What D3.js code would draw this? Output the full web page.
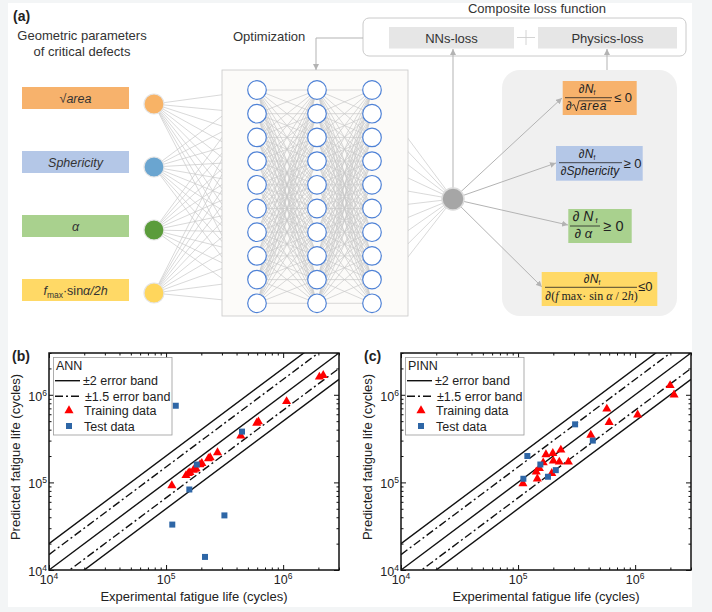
<!DOCTYPE html>
<html>
<head>
<meta charset="utf-8">
<script src="https://cdn.jsdelivr.net/npm/d3@7"></script>
<style>
body { margin: 0; background: #f3f5f6; }
svg { display: block; }
text { font-family: "Liberation Sans", Arial, sans-serif; fill: #222; }
</style>
</head>
<body>
<div id="chart"></div>
<script>
// ---- data ----
const inputNames = ["sqrtArea", "Sphericity", "alpha", "fmax"];
const hiddenLayers = [10, 10, 10];
const lossTerms = ["NNs-loss", "Physics-loss"];
const constraintSigns = ["≤ 0", "≥ 0", "≥ 0", "≤0"];

const bandFactors = [1, 2, 0.5, 1.5, 1 / 1.5];
const bandDashed = [false, false, false, true, true];
const majorTicks = [1e4, 1e5, 1e6];

// (b) ANN
const annTrainExp  = [1.12e5, 1.48e5, 1.55e5, 1.6e5, 1.71e5, 1.75e5, 1.80e5, 1.95e5, 2.02e5, 2.30e5, 2.38e5, 2.75e5, 4.35e5, 5.95e5, 6.15e5, 1.07e6, 2.04e6, 2.2e6];
const annTrainPred = [9.2e4, 1.2e5, 1.27e5, 1.3e5, 1.38e5, 1.42e5, 1.44e5, 1.6e5, 1.65e5, 1.87e5, 1.92e5, 2.19e5, 3.4e5, 4.76e5, 4.93e5, 8.4e5, 1.6e6, 1.67e6];
const annTestExp   = [1.21e5, 1.83e5, 4.45e5, 1.58e5, 1.13e5, 3.15e5, 2.15e5];
const annTestPred  = [7.5e5, 1.6e5, 3.8e5, 8.3e4, 3.3e4, 4.2e4, 1.41e4];

// (c) PINN
const pinnTrainExp  = [1.1e5, 1.43e5, 1.46e5, 1.52e5, 1.64e5, 1.73e5, 1.94e5, 1.98e5, 2.0e5, 2.25e5, 2.32e5, 2.69e5, 4.18e5, 5.73e5, 6.0e5, 1.05e6, 1.99e6, 2.15e6];
const pinnTrainPred = [9.7e4, 1.32e5, 1.1e5, 1.45e5, 1.68e5, 2.08e5, 1.27e5, 2.15e5, 1.76e5, 1.71e5, 2.35e5, 1.71e5, 3.47e5, 6.9e5, 4.85e5, 5.9e5, 1.28e6, 1.0e6];
const pinnTestExp   = [1.2e5, 3.07e5, 1.11e5, 1.55e5, 1.8e5, 2.1e5, 4.35e5];
const pinnTestPred  = [2.0e5, 4.6e5, 1.1e5, 1.6e5, 1.16e5, 1.38e5, 3.0e5];

// ---- styles ----
const inputBoxFill = ["#f7b26c", "#b4c7e7", "#a9d18e", "#ffd966"];
const inputDotFill = ["#f8b366", "#6aa5d0", "#5b9c3b", "#ffd65c"];
const lineGrey = "#c9c9c9";
const arrowGrey = "#b3b3b3";
const dashDot = "8,3,2,3";

const W = 712, H = 612;
const svg = d3.select("#chart").append("svg")
  .attr("width", W)
  .attr("height", H);

svg.append("rect").attr("x", 8).attr("y", 3).attr("width", 684).attr("height", 604).attr("fill", "#fff");

const defs = svg.append("defs");
defs.append("marker")
  .attr("id", "arrow")
  .attr("viewBox", "0 0 8 8")
  .attr("refX", 8).attr("refY", 4)
  .attr("markerWidth", 6).attr("markerHeight", 6)
  .attr("markerUnits", "userSpaceOnUse")
  .attr("orient", "auto")
  .append("path")
  .attr("d", "M0,0L8,4L0,8z")
  .attr("fill", arrowGrey);

// ================= (a) network diagram =================
const diag = svg.append("g");

diag.append("text").attr("x", 13).attr("y", 21).style("font-weight", "bold").style("font-size", "14px").text("(a)");
diag.append("text").attr("x", 82).attr("y", 40).attr("text-anchor", "middle").style("font-size", "13px").style("fill", "#333").text("Geometric parameters");
diag.append("text").attr("x", 82).attr("y", 56).attr("text-anchor", "middle").style("font-size", "13px").style("fill", "#333").text("of critical defects");
diag.append("text").attr("x", 233).attr("y", 41).style("font-size", "13px").style("fill", "#333").text("Optimization");
diag.append("text").attr("x", 537).attr("y", 12.5).attr("text-anchor", "middle").style("font-size", "13px").style("fill", "#333").text("Composite loss function");

const inY = d3.scalePoint().domain(inputNames).range([104, 293]);
const inX = 154;
const layerX = [257, 317, 372];
const nodeY = d3.scaleLinear().domain([0, 9]).range([90, 303.3]);
const outX = 453, outY = 199;

const links = diag.append("g").attr("stroke", lineGrey).attr("stroke-width", 0.7);
// input -> first hidden layer
inputNames.forEach(n => {
  d3.range(hiddenLayers[0]).forEach(j => {
    links.append("line").attr("x1", inX).attr("y1", inY(n)).attr("x2", layerX[0]).attr("y2", nodeY(j));
  });
});
// last hidden -> output
d3.range(hiddenLayers[2]).forEach(j => {
  links.append("line").attr("x1", layerX[2]).attr("y1", nodeY(j)).attr("x2", outX).attr("y2", outY);
});

// hidden box
diag.append("rect").attr("x", 222).attr("y", 70).attr("width", 186).attr("height", 246)
  .attr("fill", "#fcfbf9").attr("stroke", "#c8c8c8").attr("stroke-width", 0.8);

const inner = diag.append("g").attr("stroke", lineGrey).attr("stroke-width", 0.7);
[0, 1].forEach(l => {
  d3.range(hiddenLayers[l]).forEach(i => {
    d3.range(hiddenLayers[l + 1]).forEach(j => {
      inner.append("line").attr("x1", layerX[l]).attr("y1", nodeY(i)).attr("x2", layerX[l + 1]).attr("y2", nodeY(j));
    });
  });
});
hiddenLayers.forEach((n, l) => {
  diag.append("g").selectAll("circle").data(d3.range(n)).enter().append("circle")
    .attr("cx", layerX[l]).attr("cy", d => nodeY(d)).attr("r", 9.3)
    .attr("fill", "#fff").attr("stroke", "#4f82d6").attr("stroke-width", 1.2);
});

// input boxes
const inBox = diag.append("g").selectAll("g").data(inputNames).enter().append("g");
inBox.append("rect")
  .attr("x", 22).attr("y", (d, i) => 87 + i * 64)
  .attr("width", 107).attr("height", 22)
  .attr("fill", (d, i) => inputBoxFill[i]);
inBox.append("circle")
  .attr("cx", inX).attr("cy", d => inY(d)).attr("r", 10)
  .attr("fill", (d, i) => inputDotFill[i]).attr("stroke", "#e4e4e4").attr("stroke-width", 1.2);

const lbl = (i) => diag.append("text").attr("x", 75.5).attr("y", 102.5 + i * 64)
  .attr("text-anchor", "middle").style("font-size", "12.5px").style("fill", "#333");
let t = lbl(0);
t.append("tspan").text("√");
t.append("tspan").style("font-style", "italic").text("area");
lbl(1).style("font-style", "italic").text("Sphericity");
lbl(2).style("font-style", "italic").text("α");
t = lbl(3);
t.append("tspan").style("font-style", "italic").text("f");
t.append("tspan").attr("dy", 3).style("font-size", "8.5px").text("max");
t.append("tspan").attr("dy", -3).text("·sin");
t.append("tspan").style("font-style", "italic").text("α/2h");

// loss box
diag.append("rect").attr("x", 363).attr("y", 18).attr("width", 323).attr("height", 38).attr("rx", 6)
  .attr("fill", "#fff").attr("stroke", "#c4c4c4").attr("stroke-width", 0.9);
const lossBoxes = [{x: 389, w: 125}, {x: 538, w: 139}];
lossTerms.forEach((name, i) => {
  diag.append("rect").attr("x", lossBoxes[i].x).attr("y", 27).attr("width", lossBoxes[i].w).attr("height", 21.5).attr("fill", "#e6e6e6");
  diag.append("text").attr("x", lossBoxes[i].x + lossBoxes[i].w / 2).attr("y", 42.5)
    .attr("text-anchor", "middle").style("font-size", "13px").style("fill", "#333").text(name);
});
diag.append("path").attr("d", "M517,37.5H535M526,30V45").attr("stroke", "#cfcfcf").attr("stroke-width", 0.9);

// physics group
diag.append("rect").attr("x", 502).attr("y", 70).attr("width", 175).attr("height", 246).attr("rx", 18).attr("fill", "#f0f0f0");

// arrows
const arrows = diag.append("g").attr("stroke", arrowGrey).attr("stroke-width", 1).attr("fill", "none");
arrows.append("path").attr("d", "M363,38H316V70").attr("marker-end", "url(#arrow)");
arrows.append("path").attr("d", `M${outX},${outY - 11}V49`).attr("marker-end", "url(#arrow)");
arrows.append("path").attr("d", "M607,70V49").attr("marker-end", "url(#arrow)");

const cBoxes = [
  {x: 562.7, y: 81, w: 74, h: 34, ax: 562, ay: 98},
  {x: 556, y: 146, w: 86.7, h: 34.7, ax: 556, ay: 163},
  {x: 568.3, y: 209, w: 63.4, h: 34, ax: 568, ay: 225},
  {x: 541.7, y: 272, w: 115.6, h: 34, ax: 542, ay: 287}
];
cBoxes.forEach(b => {
  arrows.append("line").attr("x1", outX).attr("y1", outY).attr("x2", b.ax).attr("y2", b.ay).attr("marker-end", "url(#arrow)");
});
diag.append("circle").attr("cx", outX).attr("cy", outY).attr("r", 11)
  .attr("fill", "#a6a6a6").attr("stroke", "#dcdcdc").attr("stroke-width", 1.5);

cBoxes.forEach((b, i) => {
  diag.append("rect").attr("x", b.x).attr("y", b.y).attr("width", b.w).attr("height", b.h).attr("fill", inputBoxFill[i]);
});

function numer(x, y, size, spaced) {
  const n = diag.append("text").attr("x", x).attr("y", y).attr("text-anchor", "middle")
    .style("font-size", size + "px").style("font-style", "italic");
  n.append("tspan").text(spaced ? "∂ N" : "∂N");
  n.append("tspan").attr("dy", 2).style("font-size", (size * 0.55) + "px").style("font-style", "normal").text(spaced ? " f" : "f");
}
function bar(x1, x2, y) {
  diag.append("line").attr("x1", x1).attr("x2", x2).attr("y1", y).attr("y2", y).attr("stroke", "#222").attr("stroke-width", 0.8);
}
function sign(i, x, y, size) {
  diag.append("text").attr("x", x).attr("y", y).style("font-size", size + "px").text(constraintSigns[i]);
}

// 1: sqrt area
numer(587, 93.3, 12);
bar(565, 612, 97.7);
diag.append("text").attr("x", 566).attr("y", 110).style("font-size", "12px").style("font-style", "italic").text("∂");
diag.append("path").attr("d", "M572,105.5L574,104.5L576.5,111L579,100.8H611")
  .attr("fill", "none").attr("stroke", "#222").attr("stroke-width", 0.8);
diag.append("text").attr("x", 580).attr("y", 110).style("font-size", "12px").style("font-style", "italic")
  .style("letter-spacing", "0.8px").text("area");
sign(0, 614, 102, 13);

// 2: sphericity
numer(587, 158.3, 12);
bar(559, 622, 162.7);
diag.append("text").attr("x", 590).attr("y", 175).attr("text-anchor", "middle").style("font-size", "12px").style("font-style", "italic").text("∂Sphericity");
sign(1, 623.5, 167.5, 13);

// 3: alpha
numer(585, 220.7, 14, true);
bar(570, 600, 226);
diag.append("text").attr("x", 583.5).attr("y", 237.5).attr("text-anchor", "middle").style("font-size", "13px").style("font-style", "italic").text("∂ α");
sign(2, 603.5, 230.5, 14.5);

// 4: fmax sin a / 2h
numer(592, 283.3, 12);
bar(545, 637, 287.3);
const d4 = diag.append("text").attr("x", 591.5).attr("y", 300).attr("text-anchor", "middle")
  .style("font-family", "'Liberation Serif', 'Times New Roman', serif").style("font-size", "12px");
d4.append("tspan").style("font-family", "'Liberation Sans', Arial, sans-serif").style("font-style", "italic").text("∂");
d4.append("tspan").text("(");
d4.append("tspan").style("font-style", "italic").text("f");
d4.append("tspan").text(" max· sin ");
d4.append("tspan").style("font-style", "italic").text("α");
d4.append("tspan").text(" / 2");
d4.append("tspan").style("font-style", "italic").text("h");
d4.append("tspan").text(")");
sign(3, 638, 291, 13);

// ================= (b), (c) scatter panels =================
const minorTicks = [];
[1e4, 1e5, 1e6].forEach(dec => {
  d3.range(2, 10).forEach(k => { if (k * dec <= 3e6) minorTicks.push(k * dec); });
});

function drawPanel(ox, letter, name, trainX, trainY, testX, testY) {
  const pw = 290, py0 = 353, py1 = 570;
  const x = d3.scaleLog().domain([1e4, 3e6]).range([ox, ox + pw]);
  const y = d3.scaleLog().domain([1e4, 3e6]).range([py1, py0]);
  const g = svg.append("g");
  const clipId = "clip-" + letter.replace(/[()]/g, "");
  defs.append("clipPath").attr("id", clipId).append("rect")
    .attr("x", ox).attr("y", py0).attr("width", pw).attr("height", py1 - py0);

  // error bands
  const bands = g.append("g").attr("clip-path", `url(#${clipId})`);
  bandFactors.forEach((f, i) => {
    bands.append("line")
      .attr("x1", x(1e4)).attr("y1", y(1e4 * f))
      .attr("x2", x(3e6)).attr("y2", y(3e6 * f))
      .attr("stroke", "#111").attr("stroke-width", 1.4)
      .attr("stroke-dasharray", bandDashed[i] ? dashDot : null);
  });

  // points
  const pts = g.append("g").attr("clip-path", `url(#${clipId})`);
  pts.selectAll("path.train").data(d3.range(trainX.length)).enter().append("path")
    .attr("class", "train")
    .attr("d", d3.symbol().type(d3.symbolTriangle).size(36))
    .attr("transform", i => `translate(${x(trainX[i])},${y(trainY[i])})`)
    .attr("fill", "#ff0000");
  pts.selectAll("path.test").data(d3.range(testX.length)).enter().append("path")
    .attr("class", "test")
    .attr("d", d3.symbol().type(d3.symbolSquare).size(36))
    .attr("transform", i => `translate(${x(testX[i])},${y(testY[i])})`)
    .attr("fill", "#2e66a6");

  // axes with inward ticks on all four sides
  const axes = [
    [() => d3.axisBottom(x), `translate(0,${py1})`],
    [() => d3.axisTop(x), `translate(0,${py0})`],
    [() => d3.axisLeft(y), `translate(${ox},0)`],
    [() => d3.axisRight(y), `translate(${ox + pw},0)`]
  ];
  axes.forEach(([mk, tr]) => {
    [[majorTicks, 5], [minorTicks, 2.5]].forEach(([vals, len]) => {
      const a = g.append("g").attr("transform", tr)
        .call(mk().tickValues(vals).tickSize(-len).tickFormat(""));
      a.select(".domain").remove();
      a.selectAll("line").attr("stroke", "#111").attr("stroke-width", 1);
    });
  });
  g.append("rect").attr("x", ox).attr("y", py0).attr("width", pw).attr("height", py1 - py0)
    .attr("fill", "none").attr("stroke", "#111").attr("stroke-width", 1.5);

  // tick labels
  majorTicks.forEach(v => {
    const e = Math.round(Math.log10(v));
    const tx = g.append("text").attr("x", x(v)).attr("y", 584).attr("text-anchor", "middle").style("font-size", "12.5px");
    tx.append("tspan").text("10");
    tx.append("tspan").attr("dy", -5).style("font-size", "8.5px").text(e);
    const ty = g.append("text").attr("x", ox - 2).attr("y", y(v) + 6).attr("text-anchor", "end").style("font-size", "12.5px");
    ty.append("tspan").text("10");
    ty.append("tspan").attr("dy", -5).style("font-size", "8.5px").text(e);
  });

  g.append("text").attr("x", ox + 145).attr("y", 601).attr("text-anchor", "middle").style("font-size", "13px")
    .text("Experimental fatigue life (cycles)");
  g.append("text").attr("transform", `translate(${ox - 29},${457}) rotate(-90)`).attr("text-anchor", "middle").style("font-size", "13px")
    .text("Predicted fatigue life (cycles)");
  g.append("text").attr("x", ox - 37).attr("y", 360.5).style("font-weight", "bold").style("font-size", "14px").text(letter);

  // legend
  const lg = g.append("g").attr("transform", `translate(${ox},0)`);
  lg.append("rect").attr("x", 4.5).attr("y", 357.5).attr("width", 118.5).attr("height", 77.5)
    .attr("fill", "#fff").attr("stroke", "#9a9a9a").attr("stroke-width", 0.8);
  lg.append("text").attr("x", 7).attr("y", 370).style("font-size", "12.5px").text(name);
  lg.append("line").attr("x1", 6).attr("x2", 31).attr("y1", 380.7).attr("y2", 380.7).attr("stroke", "#111").attr("stroke-width", 1.4);
  lg.append("text").attr("x", 34).attr("y", 385.3).style("font-size", "12.5px").text("±2 error band");
  lg.append("line").attr("x1", 6).attr("x2", 33).attr("y1", 396.3).attr("y2", 396.3).attr("stroke", "#111").attr("stroke-width", 1.4)
    .attr("stroke-dasharray", dashDot);
  lg.append("text").attr("x", 36).attr("y", 400.8).style("font-size", "12.5px").text("±1.5 error band");
  lg.append("path").attr("d", d3.symbol().type(d3.symbolTriangle).size(36)).attr("transform", "translate(20,410.5)").attr("fill", "#ff0000");
  lg.append("text").attr("x", 35).attr("y", 415).style("font-size", "12.5px").text("Training data");
  lg.append("path").attr("d", d3.symbol().type(d3.symbolSquare).size(36)).attr("transform", "translate(20,426)").attr("fill", "#2e66a6");
  lg.append("text").attr("x", 35).attr("y", 430.5).style("font-size", "12.5px").text("Test data");
}

drawPanel(49, "(b)", "ANN", annTrainExp, annTrainPred, annTestExp, annTestPred);
drawPanel(401, "(c)", "PINN", pinnTrainExp, pinnTrainPred, pinnTestExp, pinnTestPred);
</script>
</body>
</html>
